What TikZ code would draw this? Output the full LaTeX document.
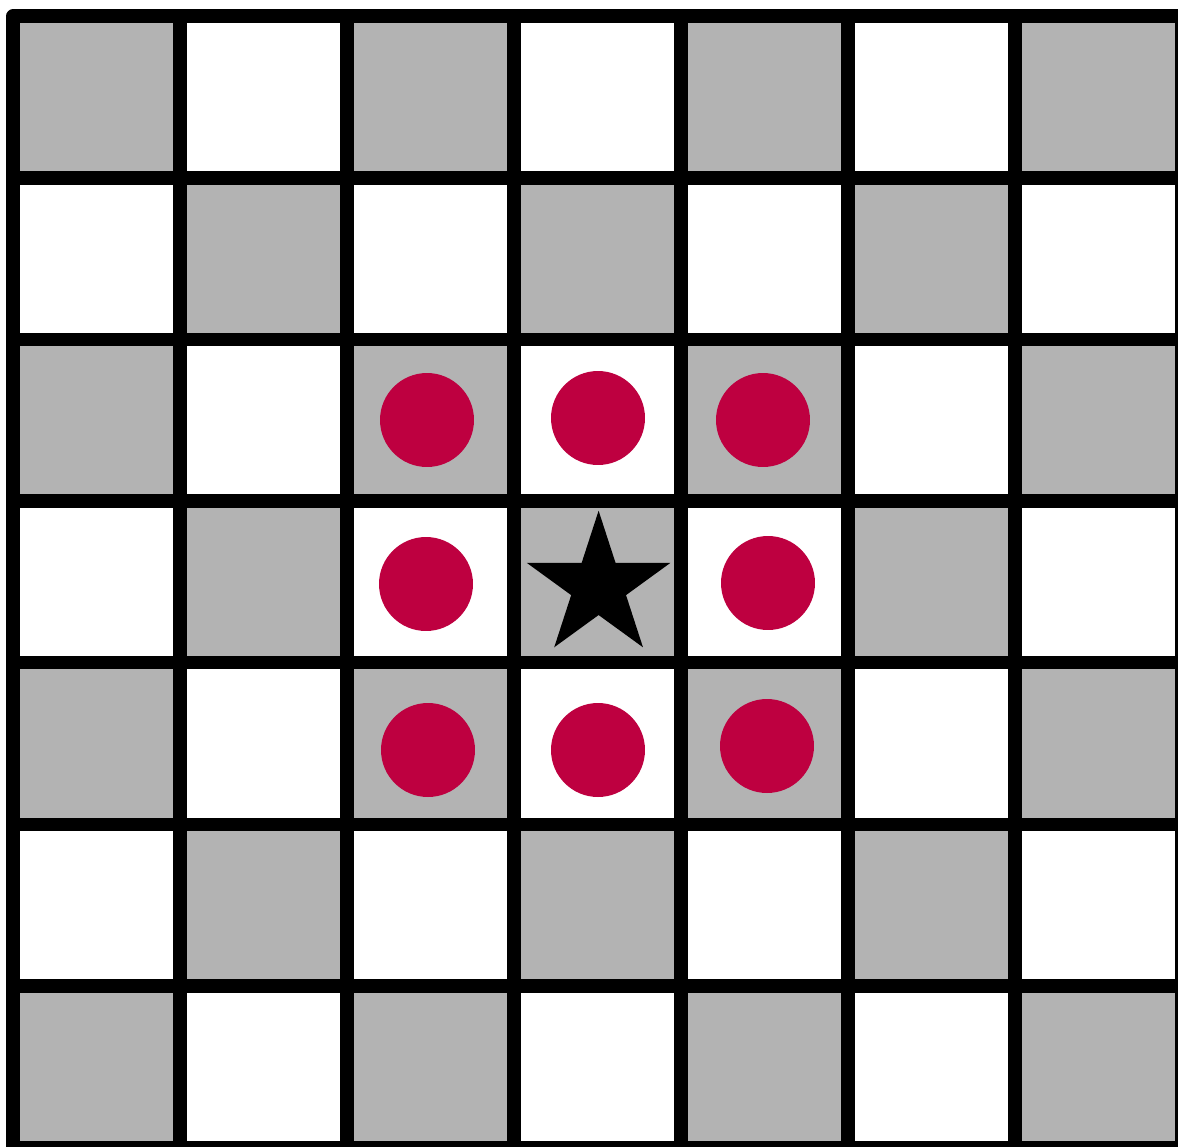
\documentclass[tikz,border=0pt]{standalone}
\usetikzlibrary{shapes.geometric}
\definecolor{dotred}{RGB}{190,0,64}
\definecolor{cellgray}{RGB}{179,179,179}
\begin{document}
\begin{tikzpicture}[x=0.02cm,y=-0.02cm,
  vline/.style={line width=0.28cm, black},
  hline/.style={line width=0.268cm, black},
  frameline/.style={line width=0.275cm, black, line join=round},
  graycell/.style={fill=cellgray},
  dot/.style={circle, fill=dotred, minimum size=1.88cm, inner sep=0pt, draw=none},
  starmark/.style={star, star points=5, star point ratio=2.618, fill=black, draw=none, minimum size=3.02cm, inner sep=0pt}]
\useasboundingbox (0,0) rectangle (1178,1147);
\clip (0,0) rectangle (1178,1147);
\fill[white] (0,0) rectangle (1178,1147);
\foreach \i in {0,...,6} {
  \foreach \j in {0,...,6} {
    \pgfmathtruncatemacro\parity{mod(\i+\j,2)}
    \ifnum\parity=0
      \fill[graycell] ({13+167*\i},{16.3+161.6*\j}) rectangle ++(167,161.6);
    \fi
  }
}
\foreach \i in {1,...,6} \draw[vline] ({13+167*\i},16.3) -- ({13+167*\i},1147.8);
\foreach \j in {1,...,6} \draw[hline] (13,{16.3+161.6*\j}) -- (1182,{16.3+161.6*\j});
\draw[frameline] (13,16.3) rectangle (1182,1147.8);
\node[dot] (d1) at (427,420) {};
\node[dot] (d2) at (598,418) {};
\node[dot] (d3) at (763,420) {};
\node[dot] (d4) at (426,584) {};
\node[dot] (d5) at (768,583) {};
\node[dot] (d6) at (428,750) {};
\node[dot] (d7) at (598,750) {};
\node[dot] (d8) at (767,746) {};
\node[starmark] (st) at (598.6,586.2) {};
\end{tikzpicture}
\end{document}
